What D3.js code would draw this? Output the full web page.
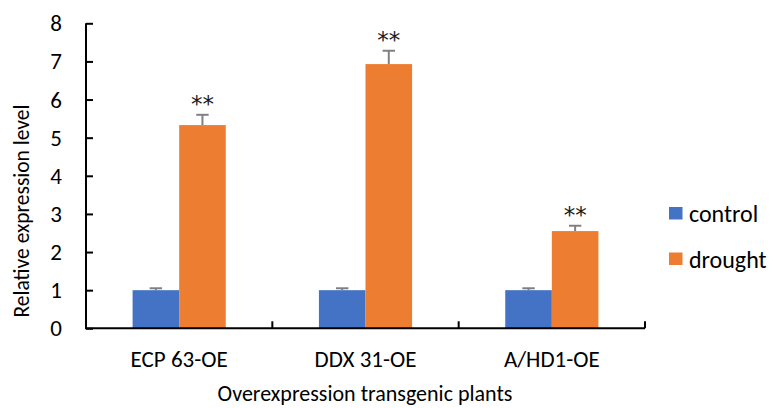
<!DOCTYPE html>
<html>
<head>
<meta charset="utf-8">
<script src="https://cdn.jsdelivr.net/npm/d3@7"></script>
<style>
  html, body { margin: 0; padding: 0; background: #fff; }
  svg { display: block; font-family: Carlito, Calibri, Lato, "Open Sans", sans-serif; }
</style>
</head>
<body>
<svg id="chart" width="773" height="408"></svg>
<script>
// ---- data ----
const categories = ["ECP 63-OE", "DDX 31-OE", "A/HD1-OE"];
const seriesNames = ["control", "drought"];
const controlValues = [1.00, 1.00, 1.00];
const controlErrors = [0.05, 0.05, 0.05];
const droughtValues = [5.33, 6.93, 2.55];
const droughtErrors = [0.27, 0.35, 0.14];
const significance = ["**", "**", "**"];
const yTicks = [0, 1, 2, 3, 4, 5, 6, 7, 8];
const yTitle = "Relative expression level";
const xTitle = "Overexpression transgenic plants";

const colors = { control: "#4472C4", drought: "#ED7D31" };

const rows = categories.map((c, i) => ({
  category: c,
  sig: significance[i],
  bars: [
    { series: "control", value: controlValues[i], err: controlErrors[i] },
    { series: "drought", value: droughtValues[i], err: droughtErrors[i] }
  ]
}));

const svg = d3.select("#chart");

const plot = { left: 86, right: 645, top: 23.3, bottom: 328.3 };

const y = d3.scaleLinear().domain([0, 8]).range([plot.bottom, plot.top]);
const x0 = d3.scaleBand().domain(categories).range([plot.left, plot.right]).paddingInner(0).paddingOuter(0);
const groupW = x0.bandwidth() * 0.5;
const x1 = d3.scaleBand().domain(seriesNames).range([0, groupW]).padding(0);

// bars
const groups = svg.append("g").selectAll("g").data(rows).join("g")
  .attr("transform", d => `translate(${x0(d.category) + (x0.bandwidth() - groupW) / 2},0)`);

groups.selectAll("rect").data(d => d.bars).join("rect")
  .attr("x", d => x1(d.series))
  .attr("width", x1.bandwidth())
  .attr("y", d => y(d.value))
  .attr("height", d => y(0) - y(d.value))
  .attr("fill", d => colors[d.series]);

// error bars (plus direction only)
const capW = 12.4;
groups.selectAll("g.err").data(d => d.bars).join("g").attr("class", "err")
  .each(function(d) {
    const g = d3.select(this);
    const cx = x1(d.series) + x1.bandwidth() / 2;
    g.append("line").attr("x1", cx).attr("x2", cx)
      .attr("y1", y(d.value)).attr("y2", y(d.value + d.err))
      .attr("stroke", "#808080").attr("stroke-width", 2);
    g.append("line").attr("x1", cx - capW / 2).attr("x2", cx + capW / 2)
      .attr("y1", y(d.value + d.err)).attr("y2", y(d.value + d.err))
      .attr("stroke", "#808080").attr("stroke-width", 2);
  });

// significance stars
groups.append("text")
  .attr("x", x1("drought") + x1.bandwidth() / 2)
  .attr("y", d => y(d.bars[1].value + d.bars[1].err) - 2.5)
  .attr("text-anchor", "middle")
  .attr("font-family", "'DejaVu Sans', sans-serif")
  .attr("font-size", 23)
  .attr("fill", "#1a1a1a")
  .text(d => d.sig);

// y axis
const yAxis = d3.axisRight(y).tickValues(yTicks).tickSize(7).tickFormat("");
const yg = svg.append("g").attr("transform", `translate(${plot.left},0)`).call(yAxis);
yg.select(".domain").attr("stroke", "#000").attr("stroke-width", 2).attr("d", `M0,${plot.top}V${plot.bottom}`);
yg.selectAll(".tick line").attr("stroke", "#000").attr("stroke-width", 2);

svg.append("g").selectAll("text").data(yTicks).join("text")
  .attr("x", 62).attr("y", d => y(d))
  .attr("text-anchor", "end").attr("dominant-baseline", "central")
  .attr("font-size", 23).attr("fill", "#000")
  .text(d => d);

// x axis
const xg = svg.append("g").attr("transform", `translate(0,${plot.bottom})`);
xg.append("line").attr("x1", plot.left - 1).attr("x2", plot.right)
  .attr("y1", 0).attr("y2", 0).attr("stroke", "#000").attr("stroke-width", 2);
const boundaries = categories.map(c => x0(c) + x0.bandwidth());
xg.selectAll("line.tk").data(boundaries).join("line").attr("class", "tk")
  .attr("x1", d => d).attr("x2", d => d).attr("y1", 0).attr("y2", -7)
  .attr("stroke", "#000").attr("stroke-width", 2);
xg.selectAll("text").data(categories).join("text")
  .attr("x", d => x0(d) + x0.bandwidth() / 2).attr("y", 39.2)
  .attr("text-anchor", "middle").attr("font-size", 23).attr("fill", "#000")
  .text(d => d);

// axis titles
svg.append("text")
  .attr("x", 365).attr("y", 401)
  .attr("text-anchor", "middle").attr("font-size", 22).attr("fill", "#000")
  .text(xTitle);
svg.append("text")
  .attr("transform", `translate(29,211) rotate(-90)`)
  .attr("text-anchor", "middle").attr("font-size", 21.5).attr("fill", "#000")
  .text(yTitle);

// legend
const legend = svg.append("g").selectAll("g").data(seriesNames).join("g")
  .attr("transform", (d, i) => `translate(669,${207 + i * 45.5})`);
legend.append("rect").attr("width", 13.5).attr("height", 12.5).attr("fill", d => colors[d]);
legend.append("text").attr("x", 20).attr("y", 6.5).attr("dominant-baseline", "central")
  .attr("font-size", 24).attr("fill", "#000").text(d => d);
</script>
</body>
</html>
